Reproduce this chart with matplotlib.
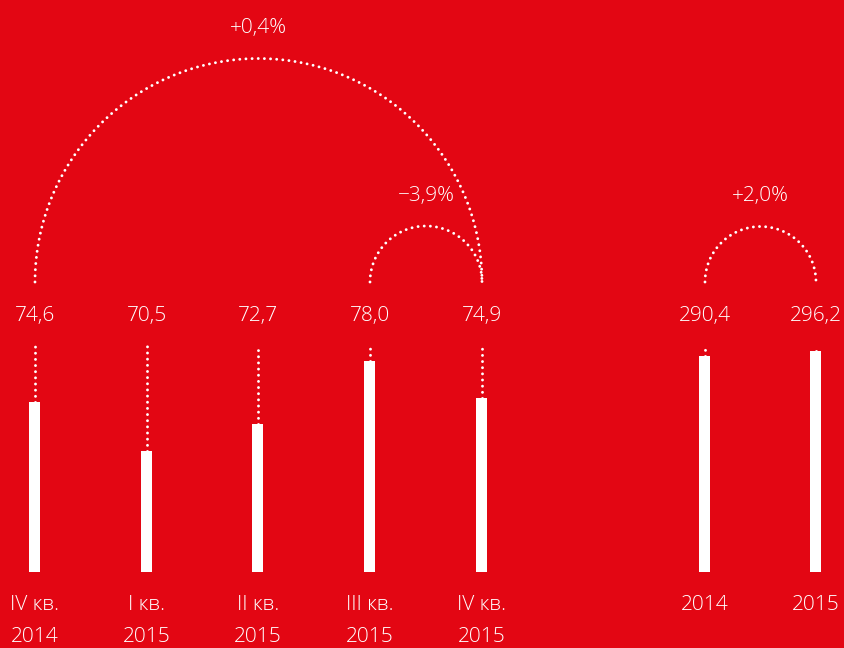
import numpy as np
import matplotlib.pyplot as plt

# quarterly values and annual totals
q_labels = ["IV кв.\n2014", "I кв.\n2015", "II кв.\n2015", "III кв.\n2015", "IV кв.\n2015"]
q_values = [74.6, 70.5, 72.7, 78.0, 74.9]
y_labels = ["2014", "2015"]
y_values = [290.4, 296.2]
# arcs: (from index, to index, text) ; quarter arcs then annual arc
q_arcs = [(0, 4, "+0,4%"), (3, 4, "\u22123,9%")]
y_arcs = [(0, 1, "+2,0%")]

RED = "#E30613"
W, H = 845, 648
plt.rcParams["font.family"] = ["Open Sans", "DejaVu Sans"]

fig = plt.figure(figsize=(W / 100, H / 100), dpi=100, facecolor=RED)

# pixel-space overlay for text and arcs
ov = fig.add_axes([0, 0, 1, 1])
ov.set_xlim(0, W)
ov.set_ylim(H, 0)
ov.axis("off")

base_px = 572
rect = [0, (H - base_px) / H, 1, base_px / H]
axq = fig.add_axes(rect, zorder=2)
axq.set_xlim(0, W)
axq.set_ylim(60.4, 60.4 + base_px / 12.0)
axq.axis("off")
axy = fig.add_axes(rect, zorder=2)
axy.set_xlim(0, W)
axy.set_ylim(39.8, 39.8 + base_px / 0.862)
axy.axis("off")
ov.set_zorder(3)
ov.patch.set_alpha(0)

qx = [35, 147, 258, 370, 482]
yx = [705, 816]
bw = 11
dot_top = 346
dots = dict(color="white", lw=2.1, linestyle=(0, (0.01, 2.1)), dash_capstyle="round")

def px_to_val(ax, py):
    disp = fig.dpi_scale_trans.transform((0, (H - py) / 100))
    return ax.transData.inverted().transform(disp)[1]

fs = 15
for ax, xs, vals, labs in [(axq, qx, q_values, q_labels), (axy, yx, y_values, y_labels)]:
    ax.bar(xs, vals, width=bw, color="white", bottom=0)
    top = px_to_val(ax, dot_top)
    for x, v, lab in zip(xs, vals, labs):
        ax.plot([x, x], [v, top], **dots)
        ov.text(x, 316, f"{v:.1f}".replace(".", ","), color="white", fontsize=fs,
                ha="center", va="center", fontweight="light")
        lines = lab.split("\n")
        ov.text(x, 605, lines[0], color="white", fontsize=fs, ha="center", va="center", fontweight="light")
        if len(lines) == 2:
            ov.text(x, 637, lines[1], color="white", fontsize=fs, ha="center", va="center", fontweight="light")

arc_base = 282
t = np.linspace(np.pi, 0, 200)
for xs, arcs in [(qx, q_arcs), (yx, y_arcs)]:
    for i, j, txt in arcs:
        cx = (xs[i] + xs[j]) / 2
        r = (xs[j] - xs[i]) / 2
        ov.plot(cx + r * np.cos(t), arc_base - r * np.sin(t), **dots)
        ov.text(cx, arc_base - r - 30, txt, color="white", fontsize=fs,
                ha="center", va="center", fontweight="light")

fig.savefig("out.png", dpi=100, facecolor=RED)
